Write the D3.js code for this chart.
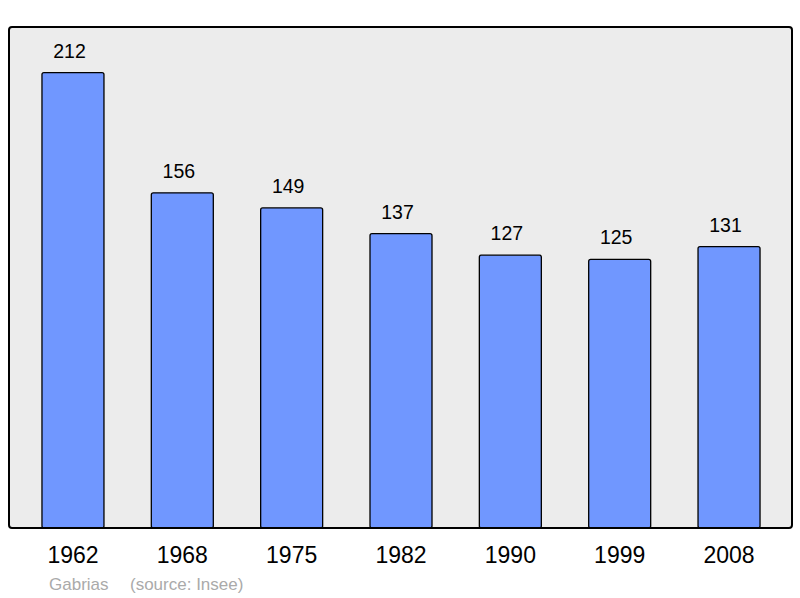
<!DOCTYPE html>
<html>
<head>
<meta charset="utf-8">
<script src="https://cdn.jsdelivr.net/npm/d3@7"></script>
<style>
  body { margin: 0; background: #fff; }
  text { font-family: "Liberation Sans", Arial, sans-serif; }
</style>
</head>
<body>
<svg></svg>
<script>
var years = ["1962", "1968", "1975", "1982", "1990", "1999", "2008"];
var population = [212, 156, 149, 137, 127, 125, 131];
var commune = "Gabrias";
var source = "(source: Insee)";

var svgWidth = 800, svgHeight = 598;
var svg = d3.select('svg')
    .attr("width", svgWidth)
    .attr("height", svgHeight);

// plot frame
var plotTop = 27, plotBottom = 528, plotLeft = 9, plotRight = 792;

svg.append("rect")
    .attr("x", plotLeft)
    .attr("y", plotTop)
    .attr("width", plotRight - plotLeft)
    .attr("height", plotBottom - plotTop)
    .attr("rx", 3)
    .attr("fill", "#ececec");

var xScale = d3.scaleBand()
    .domain(years)
    .range([18.3, 783.7])
    .paddingInner(0.433)
    .paddingOuter(0.2165);

var yScale = d3.scaleLinear()
    .domain([0, d3.max(population) * 1.1])
    .range([plotBottom, plotTop]);

svg.selectAll("rect.bar")
    .data(population)
    .enter()
    .append("rect")
    .attr("class", "bar")
    .attr("x", function(d, i) { return xScale(years[i]); })
    .attr("y", function(d) { return yScale(d); })
    .attr("width", xScale.bandwidth())
    .attr("height", function(d) { return plotBottom - yScale(d); })
    .attr("rx", 2)
    .attr("fill", "#7097ff")
    .attr("stroke", "#000")
    .attr("stroke-width", 1.3);

// value labels sit a little left of the bar centre, like the original
svg.selectAll("text.value")
    .data(population)
    .enter()
    .append("text")
    .attr("class", "value")
    .attr("x", function(d, i) { return xScale(years[i]) + xScale.bandwidth() / 2 - 3.5; })
    .attr("y", function(d) { return yScale(d) - 15; })
    .attr("text-anchor", "middle")
    .attr("font-size", 19.5)
    .attr("fill", "#000")
    .text(function(d) { return d; });

// frame border on top so bars don't cover it
svg.append("rect")
    .attr("x", plotLeft)
    .attr("y", plotTop)
    .attr("width", plotRight - plotLeft)
    .attr("height", plotBottom - plotTop)
    .attr("rx", 3)
    .attr("fill", "none")
    .attr("stroke", "#000")
    .attr("stroke-width", 2);

var xAxis = svg.append("g")
    .attr("transform", "translate(0," + plotBottom + ")")
    .call(d3.axisBottom(xScale).tickSize(0).tickPadding(19));
xAxis.select(".domain").remove();
xAxis.selectAll("text")
    .attr("font-size", 23)
    .attr("font-family", "Liberation Sans, Arial, sans-serif")
    .attr("fill", "#000");

svg.append("text")
    .attr("x", 49)
    .attr("y", 590)
    .attr("font-size", 17)
    .attr("fill", "#aaaaaa")
    .text(commune);

svg.append("text")
    .attr("x", 130)
    .attr("y", 590)
    .attr("font-size", 17)
    .attr("fill", "#aaaaaa")
    .text(source);
</script>
</body>
</html>
